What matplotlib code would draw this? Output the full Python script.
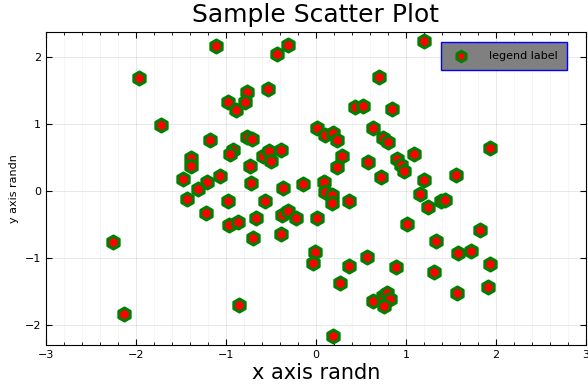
import numpy as np
import matplotlib
matplotlib.use("Agg")
import matplotlib.pyplot as plt
from matplotlib.ticker import MultipleLocator

# values (x, y pairs)
x = [-1.114, -0.437, -0.314, -1.967, -1.722, -0.530, -0.767, -0.978, -0.792, -0.886,
     0.014, -1.178, -0.770, -0.708, -1.386, -1.389, -0.922, -0.956, -0.589, -0.519,
     -0.503, -0.386, -0.733, -1.478, -1.211, -1.063, -0.722, -0.367, -0.141, -1.311,
     -1.433, -0.981, -0.563, -1.226, -0.970, -0.867, -0.670, -0.700, -0.381, -0.314,
     -0.226, 0.006, -0.386, -0.011, -0.033, -2.256, -2.130, -0.859, 1.197, 0.697,
     0.437, 0.519, 0.848, 0.103, 0.192, 0.230, 0.630, 0.741, 0.800, 0.289,
     0.230, 0.574, 0.719, 0.903, 0.941, 0.978, 1.089, 1.203, 1.559, 1.937,
     0.089, 0.100, 0.174, 0.181, 0.370, 1.159, 1.241, 1.392, 1.437, 1.014,
     1.819, 1.330, 1.578, 1.719, 0.363, 0.567, 0.886, 1.314, 1.930, 0.270,
     0.637, 0.748, 0.792, 0.826, 0.752, 1.570, 1.911, 0.189]
y = [2.164, 2.045, 2.175, 1.691, 0.990, 1.522, 1.478, 1.333, 1.333, 1.213,
     0.945, 0.761, 0.806, 0.776, 0.493, 0.369, 0.612, 0.548, 0.522, 0.593,
     0.448, 0.616, 0.369, 0.184, 0.139, 0.228, 0.115, 0.048, 0.104, 0.022,
     -0.115, -0.145, -0.145, -0.333, -0.512, -0.463, -0.399, -0.697, -0.354, -0.299,
     -0.407, -0.410, -0.642, -0.910, -1.082, -0.757, -1.831, -1.706, 2.239, 1.706,
     1.258, 1.269, 1.228, 0.831, 0.866, 0.761, 0.945, 0.787, 0.736, 0.522,
     0.358, 0.428, 0.209, 0.482, 0.388, 0.303, 0.557, 0.160, 0.243, 0.646,
     0.139, -0.015, -0.064, -0.184, -0.154, -0.040, -0.234, -0.149, -0.134, -0.497,
     -0.578, -0.751, -0.921, -0.891, -1.124, -0.985, -1.130, -1.209, -1.090, -1.369,
     -1.642, -1.563, -1.527, -1.607, -1.716, -1.527, -1.437, -2.164]

fig = plt.figure(figsize=(5.88, 3.92), dpi=100)
ax = fig.add_axes([0.0782, 0.1199, 0.9184, 0.7985])

ax.scatter(x, y, marker="h", s=88, c="red", edgecolors="green",
           linewidths=2.2, label="legend label", zorder=3)

ax.set_xlim(-3, 3)
ax.set_ylim(-2.30, 2.373)
ax.set_xticks([-3, -2, -1, 0, 1, 2, 3])
ax.set_yticks([-2, -1, 0, 1, 2])
ax.xaxis.set_minor_locator(MultipleLocator(0.2))
ax.tick_params(which="both", direction="in", top=True, right=True, labelsize=8)
ax.tick_params(which="major", length=4)
ax.tick_params(which="minor", length=2)
ax.tick_params(axis="y", which="minor", left=False, right=False)
ax.grid(True, which="major", color="black", alpha=0.1, lw=0.6)
ax.grid(True, which="minor", axis="x", color="black", alpha=0.05, lw=0.5)
ax.set_axisbelow(True)

ax.set_title("Sample Scatter Plot", fontsize=18, pad=7)
ax.set_xlabel("x axis randn", fontsize=15, labelpad=2)
ax.set_ylabel("y axis randn", fontsize=8, labelpad=4)

leg = ax.legend(loc="upper right", bbox_to_anchor=(0.965, 0.968), fontsize=8,
                facecolor="#808080", edgecolor="blue", framealpha=1,
                fancybox=False, borderpad=0.8, borderaxespad=0,
                handletextpad=1.6, markerscale=0.8)
leg.get_frame().set_linewidth(1.0)

fig.savefig("out.png", dpi=100)
